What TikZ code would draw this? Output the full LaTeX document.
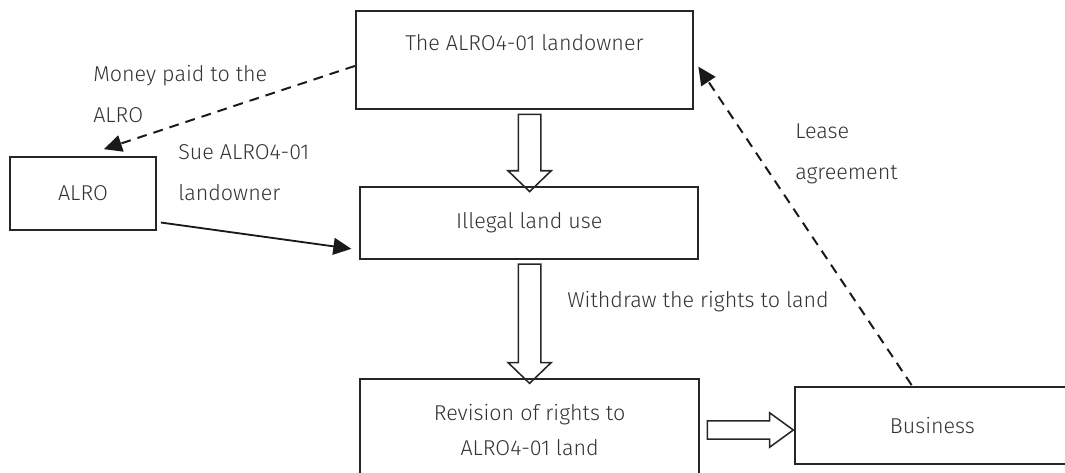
\documentclass[tikz,border=0pt]{standalone}
\usepackage{fontspec}
\setmainfont{Fira Sans Light}
\usetikzlibrary{positioning, arrows.meta, shapes.arrows}

\begin{document}
\begin{tikzpicture}[
		box/.style={draw=black!85, line width=1.3pt, rectangle, align=center, text=black!80, font=\fontsize{15.3}{25.5}\selectfont},
		lbl/.style={anchor=base west, inner sep=0pt, align=left, text=black!80, font=\fontsize{15.3}{29}\selectfont},
		fatarrow/.style={single arrow, draw=black!85, line width=1.1pt, inner xsep=0pt, single arrow tip angle=92},
		dashline/.style={dashed, dash pattern=on 7pt off 5pt, line width=1.4pt, draw=black!90, -{Triangle[length=0.45cm, width=0.42cm]}},
		solidline/.style={line width=1.3pt, draw=black!90, -{Triangle[length=0.45cm, width=0.42cm]}}
	]
	      \useasboundingbox (0, 0) rectangle (26.625, -11.8);
	      % boxes
	      \node[box, minimum width=8.43cm, minimum height=2.45cm] (owner) at (13.11, -1.5) {The ALRO4-01 landowner\\ ~};
	      \node[box, minimum width=8.45cm, minimum height=1.8cm] (illegal) at (13.23, -5.575) {Illegal land use};
	      \node[box, minimum width=8.48cm, minimum height=2.55cm] (revision) at (13.24, -10.75) {Revision of rights to\\ALRO4-01 land};
	      \node[box, minimum width=6.88cm, minimum height=1.93cm] (business) at (23.31, -10.64) {Business};
	      \node[box, minimum width=3.65cm, minimum height=1.83cm] (alro) at (2.075, -4.84) {ALRO};
	      % hollow arrows
	      \node[fatarrow, rotate=-90, inner ysep=0.26cm, single arrow head extend=0.26cm, minimum height=1.93cm] (down1) at (13.24, -3.69) {};
	      \node[fatarrow, rotate=-90, inner ysep=0.26cm, single arrow head extend=0.26cm, minimum height=2.98cm] (down2) at (13.24, -7.96) {};
	      \node[fatarrow, inner ysep=0.21cm, single arrow head extend=0.2cm, single arrow tip angle=72, minimum height=2.15cm] (right1) at (18.6, -10.75) {};
	      % labels
	      \node[lbl] (money) at (2.325, -3.05) {Money paid to the\\ALRO};
	      \node[lbl] (sue) at (4.45, -5.0) {Sue ALRO4-01\\landowner};
	      \node[lbl] (lease) at (19.875, -4.475) {Lease\\agreement};
	      \node[lbl] (withdraw) at (14.175, -7.675) {Withdraw the rights to land};
	      % connectors
	      \draw[dashline, shorten >=0.55cm] (owner.182) -- (alro.north);
	      \draw[solidline, shorten <=0.1cm, shorten >=0.2cm] (alro.-21) -- (illegal.189);
	      \draw[dashline, shorten <=0.03cm, shorten >=0.2cm] (business.117) -- (owner.east);
	      \end{tikzpicture}
\end{document}
